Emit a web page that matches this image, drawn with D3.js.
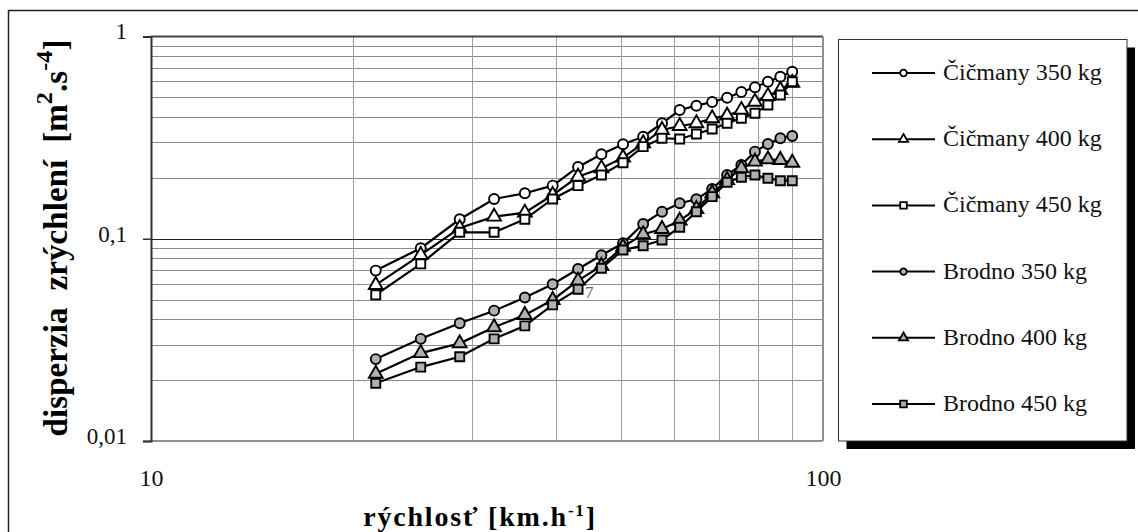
<!DOCTYPE html>
<html>
<head>
<meta charset="utf-8">
<script src="https://cdn.jsdelivr.net/npm/d3@7"></script>
<style>
  html, body { margin: 0; padding: 0; background: #fff; }
  svg { display: block; }
  text { font-family: "Liberation Serif", "Times New Roman", serif; white-space: pre; }
</style>
</head>
<body>
<svg id="chart" width="1138" height="532"></svg>
<script>
// ---- data ----
const speeds = [21.6, 25.2, 28.8, 32.4, 36, 39.6, 43.2, 46.8, 50.4, 54, 57.6, 61.2, 64.8, 68.4, 72, 75.6, 79.2, 82.8, 86.4, 90];
const cicmany350 = [0.0696, 0.0898, 0.1248, 0.1573, 0.1679, 0.1830, 0.2264, 0.2617, 0.2932, 0.3196, 0.3724, 0.4331, 0.4549, 0.4746, 0.4982, 0.5317, 0.5608, 0.5977, 0.6327, 0.6699];
const cicmany400 = [0.0591, 0.0832, 0.1130, 0.1286, 0.1346, 0.1646, 0.2028, 0.2231, 0.2517, 0.2965, 0.3450, 0.3610, 0.3724, 0.3940, 0.4060, 0.4331, 0.4760, 0.5078, 0.5441, 0.5900];
const cicmany450 = [0.0528, 0.0751, 0.1076, 0.1076, 0.1248, 0.1573, 0.1830, 0.2067, 0.2377, 0.2853, 0.3140, 0.3115, 0.3296, 0.3490, 0.3724, 0.3940, 0.4172, 0.4586, 0.5136, 0.5977];
const brodno350 = [0.0254, 0.0320, 0.0382, 0.0441, 0.0512, 0.0596, 0.0709, 0.0829, 0.0950, 0.1183, 0.1361, 0.1498, 0.1567, 0.1763, 0.2067, 0.2316, 0.2695, 0.2942, 0.3140, 0.3222];
const brodno400 = [0.0215, 0.0272, 0.0304, 0.0365, 0.0420, 0.0498, 0.0621, 0.0734, 0.0911, 0.1052, 0.1118, 0.1229, 0.1404, 0.1679, 0.1953, 0.2231, 0.2405, 0.2472, 0.2452, 0.2377];
const brodno450 = [0.0193, 0.0232, 0.0261, 0.0320, 0.0371, 0.0471, 0.0563, 0.0715, 0.0880, 0.0924, 0.0986, 0.1140, 0.1361, 0.1615, 0.1902, 0.2014, 0.2067, 0.1991, 0.1937, 0.1937];

const seriesNames = ["Čičmany 350 kg", "Čičmany 400 kg", "Čičmany 450 kg", "Brodno 350 kg", "Brodno 400 kg", "Brodno 450 kg"];
const seriesShapes = ["circle", "triangle", "square", "circle", "triangle", "square"];
const seriesFills = ["#ffffff", "#ffffff", "#ffffff", "#b0b0b0", "#b0b0b0", "#b0b0b0"];
const seriesValues = [cicmany350, cicmany400, cicmany450, brodno350, brodno400, brodno450];

const xTickValues = [10, 100];
const xTickLabels = ["10", "100"];
const yTickValues = [0.01, 0.1, 1];
const yTickLabels = ["0,01", "0,1", "1"];
const xGridValues = [20, 30, 40, 50, 60, 70, 80, 90];
const yGridValues = [0.02, 0.03, 0.04, 0.05, 0.06, 0.07, 0.08, 0.09, 0.2, 0.3, 0.4, 0.5, 0.6, 0.7, 0.8, 0.9];

const SERIF = "'Liberation Serif', 'Times New Roman', serif";

// ---- layout ----
const svg = d3.select("#chart");
const plot = { left: 151, right: 823, top: 36.5, bottom: 441 };

const x = d3.scaleLog().domain([10, 100]).range([plot.left, plot.right]);
const y = d3.scaleLog().domain([0.01, 1]).range([plot.bottom, plot.top]);

// outer border
svg.append("rect").attr("x", 8.5).attr("y", 10.5).attr("width", 1140).attr("height", 530)
  .attr("fill", "none").attr("stroke", "#222").attr("stroke-width", 1.5);

// grid
const grid = svg.append("g");
grid.selectAll("line.hg").data(yGridValues).join("line")
  .attr("x1", plot.left).attr("x2", plot.right)
  .attr("y1", d => Math.round(y(d)) + 0.5).attr("y2", d => Math.round(y(d)) + 0.5)
  .attr("stroke", "#8c8c8c").attr("stroke-width", 1);
grid.selectAll("line.vg").data(xGridValues).join("line")
  .attr("y1", plot.top).attr("y2", plot.bottom)
  .attr("x1", d => Math.round(x(d)) + 0.5).attr("x2", d => Math.round(x(d)) + 0.5)
  .attr("stroke", "#a0a0a0").attr("stroke-width", 1);
grid.append("line").attr("x1", plot.left).attr("x2", plot.right)
  .attr("y1", Math.round(y(0.1)) + 0.5).attr("y2", Math.round(y(0.1)) + 0.5)
  .attr("stroke", "#222").attr("stroke-width", 1);

// plot frame
svg.append("line").attr("x1", plot.left).attr("x2", plot.right).attr("y1", plot.top).attr("y2", plot.top)
  .attr("stroke", "#444").attr("stroke-width", 2);
svg.append("line").attr("x1", plot.right).attr("x2", plot.right).attr("y1", plot.top).attr("y2", plot.bottom)
  .attr("stroke", "#909090").attr("stroke-width", 2);
svg.append("line").attr("x1", plot.left).attr("x2", plot.right).attr("y1", plot.bottom).attr("y2", plot.bottom)
  .attr("stroke", "#909090").attr("stroke-width", 2);

// y axis
const yAxis = d3.axisLeft(y).tickValues(yTickValues).tickSize(8)
  .tickFormat((d, i) => yTickLabels[i]);
const gy = svg.append("g").attr("transform", `translate(${plot.left},0)`).call(yAxis)
  .attr("font-family", SERIF);
gy.select(".domain").attr("stroke", "#333").attr("stroke-width", 2);
gy.selectAll(".tick line").attr("stroke", "#333").attr("stroke-width", 1.5);
gy.selectAll(".tick text").style("font-family", SERIF).attr("font-size", 23)
  .attr("fill", "#111").attr("x", -24).attr("dy", "0.1em");

// x axis (labels only)
const xAxis = d3.axisBottom(x).tickValues(xTickValues).tickSize(0)
  .tickFormat((d, i) => xTickLabels[i]);
const gx = svg.append("g").attr("transform", `translate(0,${plot.bottom})`).call(xAxis)
  .attr("font-family", SERIF);
gx.select(".domain").remove();
gx.selectAll(".tick text").style("font-family", SERIF).attr("font-size", 24)
  .attr("fill", "#111").attr("y", 28).attr("dy", "0.71em");

// stray label from the reference
svg.append("text").attr("x", 585).attr("y", 298).attr("font-size", 17).attr("fill", "#666").text("7");

// series
const symbolFor = (shape, s) => {
  if (shape === "circle") return d3.symbol(d3.symbolCircle, Math.PI * s * s)();
  if (shape === "square") return d3.symbol(d3.symbolSquare, (2 * s) * (2 * s))();
  return d3.symbol(d3.symbolTriangle, s * s * 3.3)();
};
const line = d3.line().x(d => x(d[0])).y(d => y(d[1]));

seriesValues.forEach((vals, si) => {
  const pts = speeds.map((s, i) => [s, vals[i]]);
  const g = svg.append("g");
  g.append("path").attr("d", line(pts)).attr("fill", "none").attr("stroke", "#000").attr("stroke-width", 2.2);
  g.selectAll("path.m").data(pts).join("path").attr("class", "m")
    .attr("transform", d => `translate(${x(d[0])},${y(d[1])})`)
    .attr("d", symbolFor(seriesShapes[si], seriesShapes[si] === "square" ? 4.5 : 5))
    .attr("fill", seriesFills[si]).attr("stroke", "#000").attr("stroke-width", 1.9);
});

// axis titles
const yt = svg.append("text")
  .attr("transform", "translate(67,238) rotate(-90)")
  .attr("text-anchor", "middle").attr("font-weight", "bold").attr("font-size", 33)
  .attr("letter-spacing", 0.1).attr("fill", "#000").style("font-family", SERIF);
yt.append("tspan").text("disperzia  zrýchlení  [m");
yt.append("tspan").attr("dy", -15).attr("font-size", 24).text("2");
yt.append("tspan").attr("dy", 15).text(".s");
yt.append("tspan").attr("dy", -15).attr("font-size", 24).text("-4");
yt.append("tspan").attr("dy", 15).text("]");

const xt = svg.append("text").attr("x", 480).attr("y", 526)
  .attr("text-anchor", "middle").attr("font-weight", "bold").attr("font-size", 28)
  .attr("letter-spacing", 1.8).attr("fill", "#000").style("font-family", SERIF);
xt.append("tspan").text("rýchlosť [km.h");
xt.append("tspan").attr("dy", -10).attr("font-size", 17).text("-1");
xt.append("tspan").attr("dy", 10).text("]");

// legend
const lg = { x: 838.5, y: 39.5, w: 288.5, h: 401.5 };
svg.append("rect").attr("x", lg.x + 8).attr("y", lg.y + 8).attr("width", lg.w).attr("height", lg.h).attr("fill", "#000");
svg.append("rect").attr("x", lg.x).attr("y", lg.y).attr("width", lg.w).attr("height", lg.h)
  .attr("fill", "#fff").attr("stroke", "#333").attr("stroke-width", 1);
const legendY = d3.scalePoint().domain(seriesNames).range([73, 404]);
seriesNames.forEach((name, si) => {
  const cy = legendY(name);
  svg.append("line").attr("x1", 872).attr("x2", 935).attr("y1", cy).attr("y2", cy)
    .attr("stroke", "#000").attr("stroke-width", 2);
  svg.append("path").attr("transform", `translate(903.5,${cy})`)
    .attr("d", symbolFor(seriesShapes[si], 3.3))
    .attr("fill", seriesFills[si]).attr("stroke", "#000").attr("stroke-width", 1.8);
  svg.append("text").attr("x", 943).attr("y", cy + 7).attr("font-size", 24).attr("fill", "#111")
    .style("font-family", SERIF).text(name);
});
</script>
</body>
</html>
